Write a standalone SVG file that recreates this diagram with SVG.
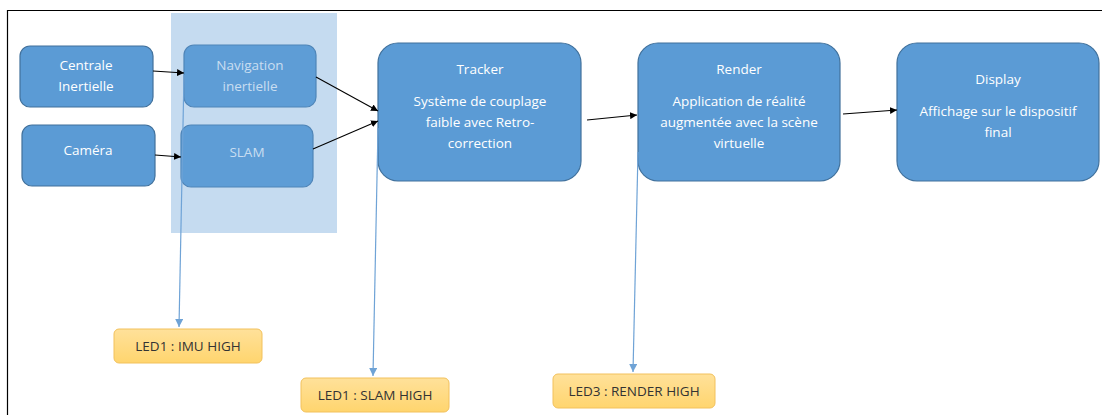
<svg xmlns="http://www.w3.org/2000/svg" width="1102" height="415" viewBox="0 0 1102 415">
<defs>
<style>
.n{fill:#5b9bd5;stroke:#41719c;stroke-width:1.2}
.nl{fill:#5e9dd6;stroke:#4f85b8;stroke-width:1.2}
.t{font-family:"Open Sans","Liberation Sans",sans-serif;font-size:13.5px;fill:#ffffff;text-anchor:middle}
.tl{font-family:"Open Sans","Liberation Sans",sans-serif;font-size:13.5px;fill:#c9ddf1;text-anchor:middle}
.led{fill:url(#g);stroke:#f2c15c;stroke-width:1}
.lt{font-family:"Open Sans","Liberation Sans",sans-serif;font-size:13.5px;fill:#333333;text-anchor:middle}
.k{stroke:#000;stroke-width:1.1;fill:none;marker-end:url(#ak)}
.b{stroke:#6fa3d6;stroke-width:1.2;fill:none;marker-end:url(#ab)}
</style>
<linearGradient id="g" x1="0" y1="0" x2="0" y2="1">
<stop offset="0" stop-color="#ffe19a"/>
<stop offset="1" stop-color="#ffd56e"/>
</linearGradient>
<marker id="ak" viewBox="0 0 10 10" refX="10" refY="5" markerWidth="7" markerHeight="7" orient="auto" markerUnits="userSpaceOnUse"><path d="M0,0L10,5L0,10z" fill="#000"/></marker>
<marker id="ab" viewBox="0 0 10 10" refX="10" refY="5" markerWidth="8" markerHeight="8" orient="auto" markerUnits="userSpaceOnUse"><path d="M0,0L10,5L0,10z" fill="#6fa3d6"/></marker>
</defs>
<rect x="0" y="0" width="1102" height="415" fill="#ffffff"/>
<path d="M7.5,415V10.5H1102" fill="none" stroke="#000" stroke-width="1.2"/>
<rect id="panel" x="171" y="13" width="166" height="220" fill="#c5dbf0"/>
<g id="centrale"><rect class="n" x="20" y="46" width="133" height="61" rx="10"/><text class="t" x="86" y="70">Centrale</text><text class="t" x="86" y="91">Inertielle</text></g>
<g id="camera"><rect class="n" x="22" y="125" width="133" height="61" rx="10"/><text class="t" x="88" y="155">Caméra</text></g>
<g id="navigation"><rect class="nl" x="184" y="45" width="132" height="62" rx="10"/><text class="tl" x="250" y="70">Navigation</text><text class="tl" x="250" y="91">inertielle</text></g>
<g id="slam"><rect class="nl" x="181" y="125" width="132" height="62" rx="10"/><text class="tl" x="247" y="157">SLAM</text></g>
<g id="tracker"><rect class="n" x="378" y="43" width="203" height="138" rx="20"/><text class="t" x="480" y="74">Tracker</text><text class="t" x="480" y="106">Système de couplage</text><text class="t" x="480" y="127">faible avec Retro-</text><text class="t" x="480" y="148">correction</text></g>
<g id="render"><rect class="n" x="638" y="43" width="202" height="138" rx="20"/><text class="t" x="739" y="74">Render</text><text class="t" x="739" y="106">Application de réalité</text><text class="t" x="739" y="127">augmentée avec la scène</text><text class="t" x="739" y="148">virtuelle</text></g>
<g id="display"><rect class="n" x="897" y="43" width="202" height="138" rx="20"/><text class="t" x="998" y="84">Display</text><text class="t" x="998" y="116">Affichage sur le dispositif</text><text class="t" x="998" y="137">final</text></g>
<g id="led-imu"><rect class="led" x="114" y="329" width="148" height="34" rx="5"/><text class="lt" x="188" y="351">LED1 : IMU HIGH</text></g>
<g id="led-slam"><rect class="led" x="301" y="378" width="148" height="34" rx="5"/><text class="lt" x="375" y="400">LED1 : SLAM HIGH</text></g>
<g id="led-render"><rect class="led" x="553" y="374" width="162" height="34" rx="5"/><text class="lt" x="634" y="396">LED3 : RENDER HIGH</text></g>
<g id="connectors">
<line class="k" x1="153" y1="71" x2="184" y2="73"/>
<line class="k" x1="155" y1="155" x2="181" y2="157"/>
<line class="k" x1="316" y1="77" x2="378" y2="111"/>
<line class="k" x1="313" y1="149" x2="378" y2="121"/>
<line class="k" x1="587" y1="120" x2="637" y2="115"/>
<line class="k" x1="843" y1="114" x2="897" y2="110"/>
<line class="b" x1="184" y1="75" x2="179" y2="327"/>
<line class="b" x1="378" y1="128" x2="373" y2="376"/>
<line class="b" x1="638" y1="152" x2="633" y2="372"/>
</g>
</svg>
